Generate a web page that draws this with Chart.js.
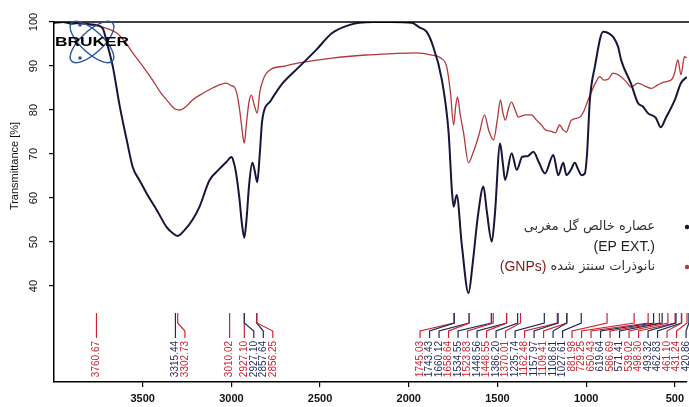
<!DOCTYPE html>
<html>
<head>
<meta charset="utf-8">
<script src="https://cdn.jsdelivr.net/npm/chart.js@4.4.1/dist/chart.umd.min.js"></script>
<style>
  html, body { margin: 0; padding: 0; background: #fff; overflow: hidden; }
  #wrap { width: 689px; height: 407px; }
</style>
</head>
<body>
<div id="wrap"><canvas id="ftir" width="689" height="407"></canvas></div>
<script>
// EP EXT. (black / navy trace)
const epWavenumber = [4000, 3950, 3900, 3850, 3800, 3760, 3725, 3700, 3668, 3630, 3590, 3556, 3517, 3470, 3421, 3365, 3330, 3303, 3264, 3220, 3180, 3124, 3070, 3028, 3000, 2990, 2975, 2955, 2940, 2927, 2915, 2900, 2882, 2870, 2854, 2840, 2826, 2780, 2713, 2618, 2523, 2432, 2337, 2280, 2200, 2100, 1983, 1940, 1900, 1869, 1813, 1775, 1757, 1747, 1730, 1700, 1663, 1640, 1610, 1579, 1560, 1532, 1515, 1485, 1470, 1457, 1420, 1391, 1360, 1330, 1298, 1265, 1232, 1185, 1157, 1129, 1111, 1085, 1064, 1045, 1026, 1007, 995, 979, 951, 904, 876, 848, 820, 803, 747, 708, 680, 652, 607, 579, 551, 500, 466, 432];
const epTransmittance = [99.8, 100, 99.6, 99.8, 99.5, 99.3, 98.5, 95, 89.8, 81, 73.2, 67, 64, 60.5, 57.3, 53.4, 52, 51.4, 52.7, 55, 58, 64, 66.5, 68.2, 69.3, 68.6, 66, 60, 54, 51, 55, 63, 68, 66.5, 63.6, 70, 77.7, 82, 86, 89.8, 93.6, 97.5, 99.3, 99.8, 100, 100, 99.8, 98.8, 97.8, 95.2, 86.8, 74.7, 61.8, 58, 60.7, 49, 38.4, 45, 56, 62.6, 57, 50.1, 56, 72.4, 68, 64.1, 70.2, 66.4, 69.4, 69.5, 70.5, 68, 65.6, 69.8, 65.2, 68, 65.2, 66.5, 68, 66.5, 65.2, 65.6, 70, 82.3, 89.8, 97.8, 97.5, 96.6, 94.4, 91.4, 86, 81.6, 80.8, 79.3, 78.2, 76.1, 78.2, 82.3, 86.1, 87.5];

// GNPs (red trace)
const gnpWavenumber = [4000, 3927, 3850, 3742, 3700, 3646, 3600, 3556, 3500, 3444, 3400, 3365, 3320, 3292, 3250, 3219, 3160, 3107, 3028, 3000, 2983, 2965, 2950, 2935, 2927, 2915, 2900, 2888, 2870, 2854, 2840, 2815, 2787, 2700, 2618, 2432, 2242, 2100, 1961, 1870, 1820, 1786, 1765, 1747, 1735, 1725, 1710, 1691, 1663, 1640, 1618, 1600, 1573, 1550, 1522, 1500, 1483, 1470, 1455, 1440, 1421, 1400, 1382, 1340, 1309, 1280, 1250, 1230, 1200, 1174, 1150, 1130, 1112, 1084, 1034, 1010, 989, 944, 923, 900, 876, 848, 820, 773, 747, 708, 670, 633, 596, 558, 521, 502, 483, 465, 446, 432];
const gnpTransmittance = [100, 100, 99.6, 99, 98.5, 97.5, 95.5, 93, 90, 86.8, 84, 82.3, 80.3, 80, 81, 82.3, 83.8, 85, 86.1, 85.5, 85.2, 83, 79, 74, 72.5, 77, 82, 83.4, 81, 79.3, 84, 87.5, 89, 90, 90.7, 91.8, 92.5, 92.8, 93, 92.5, 91.8, 89.8, 84, 76.6, 81, 83, 79, 74.8, 68, 70, 72.5, 75, 78.9, 75.5, 73.2, 78, 82.3, 79.5, 77.7, 80, 81.8, 80, 78.4, 78.9, 78.9, 77.7, 76.5, 75.5, 75.2, 74.8, 76.6, 75.5, 75, 77.7, 78.4, 80, 82.3, 86.4, 87.6, 86.8, 87, 88.4, 88, 86.4, 85.2, 86.1, 85.5, 84.9, 85.7, 86.4, 86.8, 88.3, 91.4, 88, 92.1, 91.8];

// peak picks: wavenumber and which trace (0 = EP EXT., 1 = GNPs)
const peakWavenumber = [3760.67, 3315.44, 3302.73, 3010.02, 2927.10, 2927.10, 2857.64, 2856.25,
  1745.03, 1743.43, 1660.12, 1658.64, 1534.55, 1523.83, 1448.56, 1448.55, 1386.20, 1370.01,
  1235.74, 1162.48, 1157.97, 1109.41, 1108.61, 1027.61, 881.98, 729.25, 650.43, 619.64,
  586.69, 571.41, 539.02, 498.30, 493.32, 462.83, 461.10, 431.24, 420.86];
const peakSeries = [1, 0, 1, 1, 1, 0, 0, 1,
  1, 0, 0, 1, 0, 1, 0, 1, 0, 1,
  0, 1, 0, 1, 0, 0, 1, 1, 1, 0,
  1, 0, 1, 1, 0, 0, 1, 1, 0];

const xTicks = [3500, 3000, 2500, 2000, 1500, 1000, 500];
const yTicks = [40, 50, 60, 70, 80, 90, 100];
const legendLines = ['عصاره خالص گل مغربی', '(EP EXT.)', 'نانوذرات سنتز شده', '(GNPs)'];

const lineColors = ['#15163a', '#b3383a'];
const peakColors = ['#1e2a5a', '#cc2430'];

function pairs(xs, ys) {
    return xs.map(function(v, i) { return {x: v, y: ys[i]}; });
}

const decor = {
    id: 'decor',
    afterDraw: function(chart) {
        const ctx = chart.ctx;
        const a = chart.chartArea;
        const x = chart.scales.x;
        const y = chart.scales.y;
        ctx.save();

        // frame top line
        ctx.strokeStyle = '#000';
        ctx.lineWidth = 1.5;
        ctx.beginPath();
        ctx.moveTo(a.left, a.top);
        ctx.lineTo(a.right + 5, a.top);
        ctx.stroke();

        // y tick labels, rotated
        ctx.fillStyle = '#111';
        ctx.font = '11px Arial';
        ctx.textAlign = 'center';
        ctx.textBaseline = 'middle';
        yTicks.forEach(function(v) {
            ctx.save();
            ctx.translate(34, y.getPixelForValue(v));
            ctx.rotate(-Math.PI / 2);
            ctx.fillText(String(v), 0, 0);
            ctx.restore();
        });

        // y title
        ctx.save();
        ctx.translate(15, 166);
        ctx.rotate(-Math.PI / 2);
        ctx.fillText('Transmittance [%]', 0, 0);
        ctx.restore();

        // peak labels: spread so they don't overlap
        const gap = 9.5;
        const truePx = peakWavenumber.map(function(v) { return x.getPixelForValue(v); });
        const pos = truePx.slice();
        for (let i = 1; i < pos.length; i++) pos[i] = Math.max(pos[i], pos[i - 1] + gap);
        pos[pos.length - 1] = Math.min(pos[pos.length - 1], a.right - 1);
        for (let i = pos.length - 2; i >= 0; i--) pos[i] = Math.min(pos[i], pos[i + 1] - gap);

        ctx.lineWidth = 1.2;
        ctx.font = '10px Arial';
        ctx.textAlign = 'right';
        for (let i = 0; i < pos.length; i++) {
            const c = peakColors[peakSeries[i]];
            ctx.strokeStyle = c;
            ctx.beginPath();
            ctx.moveTo(truePx[i], 313);
            ctx.lineTo(truePx[i], 323);
            ctx.lineTo(pos[i], 331);
            ctx.lineTo(pos[i], 338);
            ctx.stroke();
            ctx.save();
            ctx.fillStyle = c;
            ctx.translate(pos[i], 341);
            ctx.rotate(-Math.PI / 2);
            ctx.fillText(peakWavenumber[i].toFixed(2), 0, 0);
            ctx.restore();
        }

        // legend
        ctx.fillStyle = lineColors[0];
        ctx.beginPath(); ctx.arc(687, 227, 2.2, 0, Math.PI * 2); ctx.fill();
        ctx.fillStyle = lineColors[1];
        ctx.beginPath(); ctx.arc(687, 267, 2.2, 0, Math.PI * 2); ctx.fill();
        ctx.font = '13px "DejaVu Sans", Arial';
        ctx.fillStyle = '#333';
        ctx.direction = 'rtl';
        ctx.textAlign = 'right';
        ctx.fillText(legendLines[0], 655, 227);
        const w = ctx.measureText(legendLines[2]).width;
        ctx.fillText(legendLines[2], 655, 267);
        ctx.direction = 'ltr';
        ctx.textAlign = 'right';
        ctx.font = '14px Arial';
        ctx.fillStyle = '#222';
        ctx.fillText(legendLines[1], 655, 247);
        ctx.fillStyle = '#7a1c1c';
        ctx.fillText(legendLines[3], 655 - w - 4, 267);

        // BRUKER logo
        ctx.strokeStyle = '#2a55a0';
        ctx.lineWidth = 1.4;
        ctx.beginPath(); ctx.ellipse(92, 42, 28, 11, 0.75, 0, Math.PI * 2); ctx.stroke();
        ctx.beginPath(); ctx.ellipse(92, 42, 28, 11, -0.75, 0, Math.PI * 2); ctx.stroke();
        ctx.fillStyle = '#2a55a0';
        ctx.beginPath(); ctx.arc(80, 58, 1.8, 0, Math.PI * 2); ctx.fill();
        ctx.beginPath(); ctx.arc(80, 25, 1.8, 0, Math.PI * 2); ctx.fill();
        ctx.font = 'bold 13px Arial';
        ctx.textAlign = 'left';
        ctx.textBaseline = 'alphabetic';
        ctx.fillStyle = '#000';
        const bw = ctx.measureText('BRUKER').width;
        ctx.save();
        ctx.translate(55, 46);
        ctx.scale(74 / bw, 1);
        ctx.fillText('BRUKER', 0, 0);
        ctx.restore();

        ctx.restore();
    }
};

new Chart(document.getElementById('ftir'), {
    type: 'scatter',
    data: {
        datasets: [{
            label: 'EP EXT.',
            data: pairs(epWavenumber, epTransmittance),
            showLine: true,
            borderColor: lineColors[0],
            borderWidth: 2,
            pointRadius: 0,
            cubicInterpolationMode: 'monotone'
        }, {
            label: 'GNPs',
            data: pairs(gnpWavenumber, gnpTransmittance),
            showLine: true,
            borderColor: lineColors[1],
            borderWidth: 1.3,
            pointRadius: 0,
            cubicInterpolationMode: 'monotone'
        }]
    },
    options: {
        responsive: false,
        animation: false,
        layout: { padding: { top: 22, right: 0, left: 0, bottom: 0 } },
        plugins: { legend: { display: false }, tooltip: { enabled: false } },
        scales: {
            x: {
                type: 'linear',
                reverse: true,
                min: 431,
                max: 4000,
                grid: { display: true, drawOnChartArea: false, drawTicks: true, tickLength: 5, color: '#000', lineWidth: 1.2 },
                border: { display: true, color: '#000', width: 1.5 },
                ticks: {
                    stepSize: 500, includeBounds: false, autoSkip: false, maxRotation: 0, padding: 5, color: '#111',
                    font: { family: 'Arial', size: 11, weight: 'bold' },
                    callback: function(v) { return String(v); }
                },
                afterBuildTicks: function(s) { s.ticks = xTicks.map(function(v) { return {value: v}; }); },
                afterFit: function(s) { s.height = 25; }
            },
            y: {
                min: 18.2,
                max: 100,
                grid: { display: true, drawOnChartArea: false, drawTicks: true, tickLength: 5, color: '#000', lineWidth: 1.2 },
                border: { display: true, color: '#000', width: 1.5 },
                ticks: { display: false, stepSize: 10 },
                afterBuildTicks: function(s) { s.ticks = yTicks.map(function(v) { return {value: v}; }); },
                afterFit: function(s) { s.width = 54; }
            }
        }
    },
    plugins: [decor]
});
</script>
</body>
</html>
